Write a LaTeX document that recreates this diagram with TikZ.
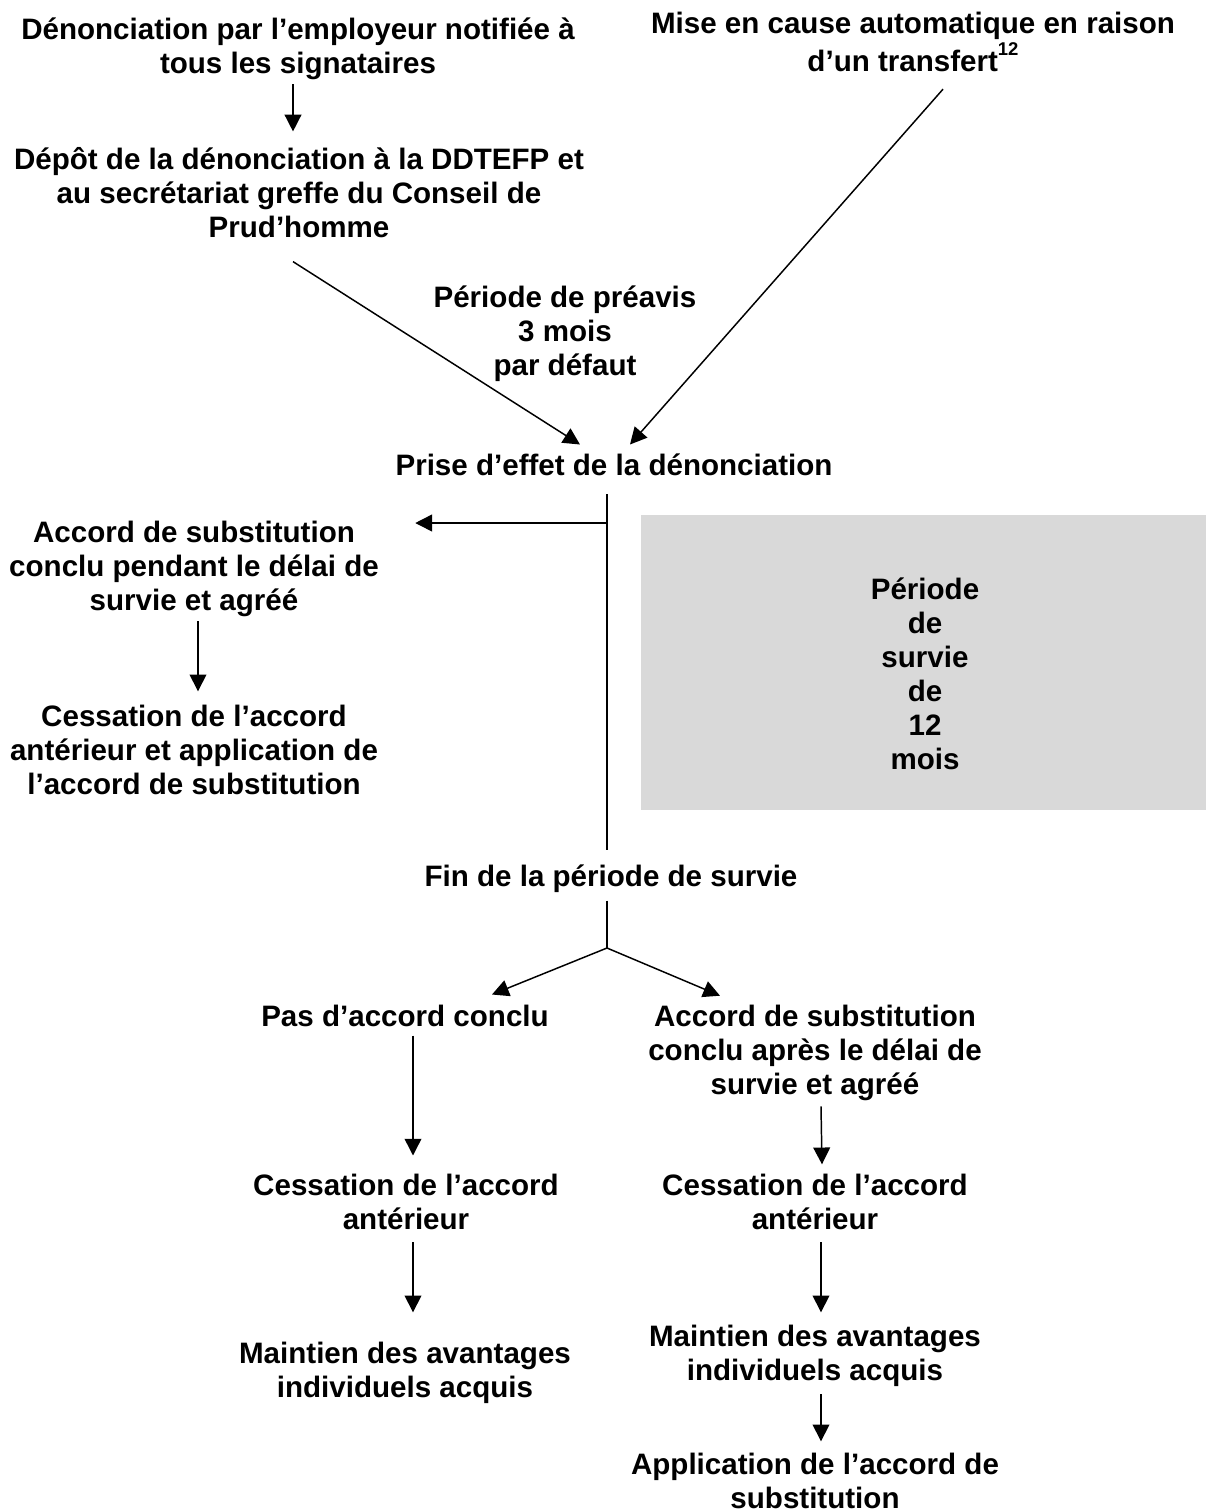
\documentclass[tikz,border=0pt]{standalone}
\usepackage{fontspec}
\setmainfont{Liberation Sans}
\usetikzlibrary{arrows.meta,calc}
\definecolor{boxgray}{HTML}{D9D9D9}
\begin{document}
\begin{tikzpicture}[x=0.406pt,y=-0.406pt,
  txt/.style={font=\fontsize{12}{13.8}\selectfont\bfseries, align=center, inner sep=0pt,
    execute at begin node=\strut, execute at end node=\strut},
  conn/.style={line width=0.6pt},
  arr/.style={conn,-{Triangle[length=6.8pt,width=6.8pt]}}]
\useasboundingbox (0,0) rectangle (1206,1512);

% grey box
\node[fill=boxgray, inner sep=0pt, minimum width=229.4pt, minimum height=119.8pt] (box) at (923.5,662.5) {};
\node[txt] (boxtxt) at (925,679) {Période\\de\\survie\\de\\12\\mois};

% text nodes
\node[txt] (t1) at (298,51) {Dénonciation par l’employeur notifiée à\\tous les signataires};
\node[txt] (t2) at (913,47) {Mise en cause automatique en raison\\d’un transfert\raisebox{0.55em}{\fontsize{7.5}{8}\selectfont 12}};
\node[txt] (t3) at (299,198) {Dépôt de la dénonciation à la DDTEFP et\\au secrétariat greffe du Conseil de\\Prud’homme};
\node[txt] (preavis) at (565,336) {Période de préavis\\3 mois\\par défaut};
\node[txt] (prise) at (614,469) {Prise d’effet de la dénonciation};
\node[txt] (accl) at (194,571) {Accord de substitution\\conclu pendant le délai de\\survie et agréé};
\node[txt] (cessl) at (194,755) {Cessation de l’accord\\antérieur et application de\\l’accord de substitution};
\node[txt] (fin) at (611,880) {Fin de la période de survie};
\node[txt] (pas) at (405,1020) {Pas d’accord conclu};
\node[txt] (accr) at (815,1055) {Accord de substitution\\conclu après le délai de\\survie et agréé};
\node[txt] (cess2) at (406,1207) {Cessation de l’accord\\antérieur};
\node[txt] (cess3) at (815,1207) {Cessation de l’accord\\antérieur};
\node[txt] (maint1) at (405,1375) {Maintien des avantages\\individuels acquis};
\node[txt] (maint2) at (815,1358) {Maintien des avantages\\individuels acquis};
\node[txt] (app) at (815,1486) {Application de l’accord de\\substitution};

% junction coordinates
\coordinate (top) at (607,494);
\coordinate (jA) at (607,523);
\coordinate (bot) at (607,850);
\coordinate (fork) at (607,948);

% connectors
\draw[arr] (t1.south) ++(-5,0) -- ++(0,47);
\draw[arr] (t3.south) ++(-6,13) -- ($(prise.north)+(-34,-7)$);
\draw[arr] (t2.south) ++(30,7) -- ($(prise.north)+(16,-7)$);
\draw[conn] (top) -- (bot);
\draw[arr] (jA) -- ($(jA -| accl.east)+(36,0)$);
\draw[arr] (accl.south) ++(4,0) -- ++(0,70);
\draw[conn] (fin.south) ++(-4,3) -- (fork);
\draw[arr] (fork) -- ($(pas.north)+(87,-8)$);
\draw[arr] (fork) -- ($(accr.north)+(-95,-9)$);
\draw[arr] (pas.south) ++(8,-2) -- ++(0,120);
\draw[arr] (accr.south) ++(6,1) -- ++(1,58);
\draw[arr] (cess2.south) ++(7,2) -- ++(0,70);
\draw[arr] (cess3.south) ++(6,2) -- ++(0,70);
\draw[arr] (maint2.south) ++(6,3) -- ++(0,47);
\end{tikzpicture}
\end{document}
